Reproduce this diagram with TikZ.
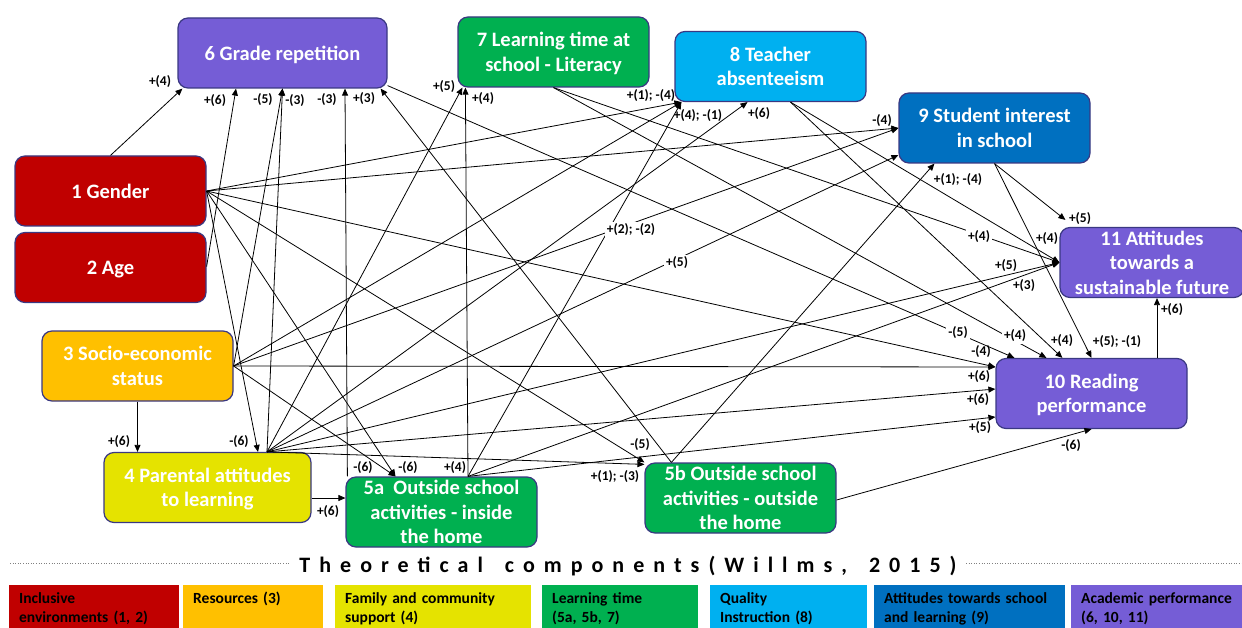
\documentclass[tikz,border=0pt]{standalone}
\usepackage{fontspec}
\setmainfont{Carlito}
\newfontfamily\titlefont[LetterSpace=41]{Carlito}
\usetikzlibrary{arrows.meta, calc}
\definecolor{cRed}{RGB}{192,0,0}
\definecolor{cOrange}{RGB}{255,192,0}
\definecolor{cYellow}{RGB}{229,227,0}
\definecolor{cGreen}{RGB}{0,176,80}
\definecolor{cSky}{RGB}{0,176,240}
\definecolor{cBlue}{RGB}{0,112,192}
\definecolor{cPurple}{RGB}{117,93,214}
\definecolor{cEdge}{RGB}{58,56,130}

\begin{document}
\begin{tikzpicture}[x=1pt, y=-1pt,
  factor/.style={draw=cEdge, line width=1.2pt, rounded corners=10pt, fill=#1, text=white,
    font=\fontsize{20.5}{24.5}\selectfont\bfseries, align=center, text depth=0pt,
    minimum width=191pt, minimum height=70pt, inner sep=0pt},
  lbl/.style={font=\fontsize{13.5}{15}\selectfont\bfseries, inner sep=1pt},
  gaplbl/.style={lbl, fill=white, inner sep=2pt},
  arr/.style={-{Triangle[length=7pt, width=6pt]}, line width=0.8pt},
  legbox/.style={fill=#1, anchor=north west, minimum height=43pt, inner xsep=10pt,
    inner ysep=7pt, align=left, font=\fontsize{15.5}{19}\selectfont\bfseries, text=black}]
  \useasboundingbox (0,0) rectangle (1242,628);

  % factors
  \node[factor=cPurple, minimum width=209pt] (n6) at (282.5,53) {6 Grade repetition};
  \node[factor=cGreen] (n7) at (553.5,52) {7 Learning time at\\school - Literacy};
  \node[factor=cSky] (n8) at (770.5,66.5) {8 Teacher\\absenteeism};
  \node[factor=cBlue] (n9) at (994.5,128) {9 Student interest\\in school};
  \node[factor=cRed] (n1) at (110.5,191) {1 Gender};
  \node[factor=cRed] (n2) at (110.5,267.5) {2 Age};
  \node[factor=cPurple, minimum width=184pt] (n11) at (1152,262.5) {11 Attitudes\\towards a\\sustainable future};
  \node[factor=cOrange] (n3) at (137.5,366) {3 Socio-economic\\status};
  \node[factor=cPurple] (n10) at (1091.5,393.5) {10 Reading\\performance};
  \node[factor=cYellow, minimum width=207pt] (n4) at (207.5,487.5) {4 Parental attitudes\\to learning};
  \node[factor=cGreen] (n5a) at (441.5,512) {5a\ \ Outside school\\activities - inside\\the home};
  \node[factor=cGreen] (n5b) at (740.5,498) {5b Outside school\\activities - outside\\the home};

  % start points
  \coordinate (g) at (n1.east);
  \coordinate (ag) at ($(n2.east)+(0,-1)$);
  \coordinate (s) at (n3.east);
  \coordinate (pa) at ($(n4.north)+(59.5,0)$);
  \coordinate (q4) at ($(n4.east)+(0,10.5)$);
  \coordinate (ia) at ($(n5a.north)+(26.5,0)$);
  \coordinate (ib) at ($(n5a.north west)+(2,0)$);
  \coordinate (ob) at ($(n5b.north west)+(27,0)$);
  \coordinate (r6) at ($(n6.south east)+(0,-3)$);
  \coordinate (lt) at (n7.south);
  \coordinate (ta) at ($(n8.south)+(20,0)$);
  \coordinate (si) at (n9.south);
  \coordinate (r10) at ($(n10.north)+(65.5,0)$);

  % end points
  \coordinate (t6a) at ($(n6.south west)+(5,0)$);
  \coordinate (t6b) at ($(n6.south)+(-46.5,0)$);
  \coordinate (t6c) at (n6.south);
  \coordinate (t6d) at ($(n6.south)+(62.5,0)$);
  \coordinate (t6e) at ($(n6.south east)+(-7,0)$);
  \coordinate (t7a) at ($(n7.south west)+(5,0)$);
  \coordinate (t7b) at ($(n7.south west)+(8,0)$);
  \coordinate (t8a) at ($(n8.south west)+(7,0)$);
  \coordinate (t8b) at ($(n8.south)+(-23,0)$);
  \coordinate (t9a) at (n9.west);
  \coordinate (t9b) at ($(n9.west)+(0,27)$);
  \coordinate (t9c) at ($(n9.south west)+(36,0)$);
  \coordinate (t11a) at (n11.west);
  \coordinate (t11b) at ($(n11.north west)+(6,-7)$);
  \coordinate (t11c) at ($(n11.south)+(5,0)$);
  \coordinate (t10a) at ($(n10.north west)+(19,0)$);
  \coordinate (t10b) at ($(n10.north west)+(51,0)$);
  \coordinate (t10c) at ($(n10.north west)+(67,0)$);
  \coordinate (t10d) at (n10.north);
  \coordinate (t10e) at ($(n10.west)+(0,-26.5)$);
  \coordinate (t10f) at ($(n10.west)+(0,-4.5)$);
  \coordinate (t10g) at ($(n10.west)+(0,23.5)$);
  \coordinate (t10h) at (n10.south);
  \coordinate (t4a) at ($(n4.north)+(50.5,0)$);
  \coordinate (t5a) at ($(n5a.north)+(-46,0)$);
  \coordinate (t5b) at (n5b.north west);

  % paths
  \draw[arr] (n1.north) -- (t6a);
  \foreach \e in {t8a, t9a, t10e, t4a, t5a, t5b} \draw[arr] (g) -- (\e);
  \draw[arr] (ag) -- (t6b);
  \foreach \e in {t6c, t8a, t9a, t10e, t5a} \draw[arr] (s) -- (\e);
  \draw[arr] (n3.south) -- (n3.south |- n4.north);
  \foreach \e in {t6c, t7a, t8b, t9b, t11a, t10f} \draw[arr] (pa) -- (\e);
  \draw[arr] (pa) -- ($(t5b)+(0,2)$);
  \draw[arr] (q4) -- (q4 -| n5a.west);
  \draw[arr] (ib) -- (t6d);
  \foreach \e in {t7b, t8a, t11a, t10g} \draw[arr] (ia) -- (\e);
  \draw[arr] (ob) -- (t6e);
  \draw[arr] (ob) -- (t9c);
  \draw[arr] ($(n5b.east)+(0,2)$) -- (t10h);
  \draw[arr] (r6) -- (t10a);
  \draw[arr] (lt) -- (t11a);
  \draw[arr] (lt) -- (t10b);
  \draw[arr] (ta) -- (t10c);
  \draw[arr] (ta) -- (t11a);
  \draw[arr] (si) -- (t11b);
  \draw[arr] (si) -- (t10d);
  \draw[arr] (r10) -- (t11c);

  % coefficients
  \foreach \lx/\ly/\lt [count=\i] in {160/82/{+(4)}, 215/101/{+(6)}, 263/100/{-(5)}, 295/101/{-(3)},
      327/100/{-(3)}, 364/99/{+(3)}, 444/87/{+(5)}, 483/99/{+(4)}, 651/96/{+(1); -(4)},
      698/116/{+(4); -(1)}, 759/114/{+(6)}, 882/121/{-(4)}, 958/180/{+(1); -(4)},
      1080/219/{+(5)}, 1047/239/{+(4)}, 1006/266/{+(5)}, 1024/286/{+(3)}, 1172/310/{+(6)},
      1062/341/{+(4)}, 1117/342/{+(5); -(1)}, 981/352/{-(4)}, 979/377/{+(6)}, 978/400/{+(6)},
      980/428/{+(5)}, 1071/446/{-(6)}, 119/442/{+(6)}, 239/442/{-(6)}, 363/468/{-(6)},
      408/468/{-(6)}, 455/468/{+(4)}, 328/512/{+(6)}, 640/445/{-(5)}, 615/477/{+(1); -(3)}}
    \node[lbl] (c\i) at (\lx,\ly) {\lt};
  \node[gaplbl] (k1) at (631,230) {+(2); -(2)};
  \node[gaplbl] (k2) at (677,263) {+(5)};
  \node[gaplbl] (k3) at (979,237) {+(4)};
  \node[gaplbl] (k4) at (958,333) {-(5)};
  \node[gaplbl] (k5) at (1015,336) {+(4)};

  % legend
  \node (title) at (628,566) {\titlefont\fontsize{22}{26}\selectfont\bfseries Theoretical\hspace{8pt} components(Willms,\hspace{8pt} 2015)};
  \draw[dotted, gray, line width=0.6pt] (10,563) -- (290,563);
  \draw[dotted, gray, line width=0.6pt] (966,563) -- (1242,563);
  \node[legbox=cRed, text width=150pt] (m1) at (9,585) {Inclusive\\environments (1, 2)};
  \node[legbox=cOrange, text width=120pt] (m2) at (183,585) {Resources (3)\\\mbox{}};
  \node[legbox=cYellow, text width=176pt] (m3) at (335,585) {Family and community\\support (4)};
  \node[legbox=cGreen, text width=136pt] (m4) at (542,585) {Learning time\\(5a, 5b, 7)};
  \node[legbox=cSky, text width=137pt] (m5) at (710,585) {Quality\\Instruction (8)};
  \node[legbox=cBlue, text width=171pt] (m6) at (874,585) {Attitudes towards school\\and learning (9)};
  \node[legbox=cPurple, text width=151pt] (m7) at (1071,585) {Academic performance\\(6, 10, 11)};
\end{tikzpicture}
\end{document}
